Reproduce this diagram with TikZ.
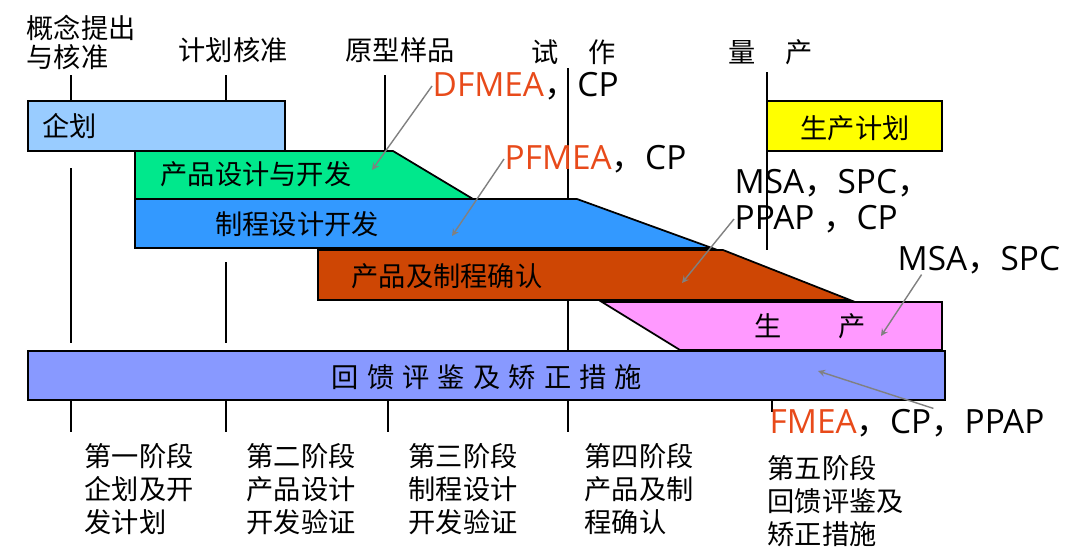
\documentclass[tikz,border=0pt]{standalone}
\usepackage{fontspec}
\setmainfont{Noto Sans CJK SC}
\newfontfamily\cjkfont{Noto Sans CJK SC}
\newfontfamily\latfont{Open Sans}
\usepackage{tikz}
\usetikzlibrary{arrows, positioning}
\tikzset{>=stealth}

\definecolor{qhblue}{RGB}{153,204,255}
\definecolor{sjgreen}{RGB}{0,232,140}
\definecolor{zcblue}{RGB}{51,153,255}
\definecolor{qrorange}{RGB}{206,70,4}
\definecolor{scpink}{RGB}{255,153,255}
\definecolor{jhyellow}{RGB}{255,255,0}
\definecolor{fbblue}{RGB}{136,153,255}
\definecolor{fmred}{RGB}{232,74,26}

\newcommand{\zdou}{{\cjkfont ，}}
\newcommand{\zkern}{\kern.3em}

\tikzset{
  stage/.style={draw=black, line width=1pt},
  tickline/.style={draw=black, line width=1pt},
  lbl/.style={inner sep=0pt, font=\fontsize{15.5}{17}\selectfont},
  stagelbl/.style={inner sep=0pt, align=left, anchor=north west, font=\fontsize{15.5}{18.7}\selectfont},
  note/.style={inner sep=0pt, anchor=west, font=\latfont\fontsize{19}{20}\selectfont},
  hint/.style={->, draw=gray, line width=0.8pt},
}

\begin{document}
\begin{tikzpicture}[>=stealth, thick, x=0.02cm, y=-0.02cm]
		\useasboundingbox (0,0) rectangle (1080,549);
		% bars of the five stages
		\filldraw[stage, fill=fbblue] (28,351) rectangle (945,400);
		\filldraw[stage, fill=scpink] (602,302) -- (942,302) -- (942,350) -- (680,350) -- cycle;
		\filldraw[stage, fill=qrorange] (318,250) -- (723,250) -- (850,300) -- (318,300) -- cycle;
		\filldraw[stage, fill=zcblue] (135,199) -- (577,199) -- (712,248) -- (135,248) -- cycle;
		\filldraw[stage, fill=sjgreen] (135,151) -- (393,151) -- (473,199) -- (135,199) -- cycle;
		\filldraw[stage, fill=qhblue] (28,101) rectangle (285,151);
		\filldraw[stage, fill=jhyellow] (767,101) rectangle (942,151);
		% milestone lines
		\foreach \x/\ya/\yb in {71/75/101, 226/75/101, 385/75/151, 568/68/199, 767/72/250,
		    71/168/343, 226/262/343, 568/300/351,
		    71/400/432, 226/400/432, 388/400/432, 568/400/432, 772/400/412}
		  \draw[tickline] (\x,\ya) -- (\x,\yb);

		\node[lbl, anchor=north west, align=left] (gnhz) at (26,14) {概念提出\\与核准};
		\node[lbl] (jhhz) at (233,50) {计划核准};
		\node[lbl] (yxyp) at (400,50) {原型样品};
		\node[lbl] (sz) at (574,52) {试\kern1.1em 作};
		\node[lbl] (lc) at (771,52) {量\kern1.1em 产};

		\node[lbl, anchor=west] (qh) at (42,126) {企划};
		\node[lbl] (sjkf) at (256,174) {产品设计与开发};
		\node[lbl] (zckf) at (297,224) {制程设计开发};
		\node[lbl] (qr) at (447,276) {产品及制程确认};
		\node[lbl] (scjh) at (855,128) {生产计划};
		\node[lbl] (sc) at (810,326) {生\kern2.1em 产};
		\node[lbl] (fk) at (487,377) {回\zkern 馈\zkern 评\zkern 鉴\zkern 及\zkern 矫\zkern 正\zkern 措\zkern 施};

		\node[stagelbl] (jd1) at (84,443) {第一阶段\\企划及开\\发计划};
		\node[stagelbl] (jd2) at (246,443) {第二阶段\\产品设计\\开发验证};
		\node[stagelbl] (jd3) at (408,443) {第三阶段\\制程设计\\开发验证};
		\node[stagelbl] (jd4) at (584,443) {第四阶段\\产品及制\\程确认};
		\node[stagelbl] (jd5) at (767,455) {第五阶段\\回馈评鉴及\\矫正措施};

		% tools
		\node[note] (dfm) at (432,86) {\textcolor{fmred}{DFMEA}\zdou CP};
		\node[note] (pfm) at (504,159) {\textcolor{fmred}{PFMEA}\zdou CP};
		\node[note] (msa1) at (734,183) {MSA\zdou SPC\zdou};
		\node[note] (msa2) at (734,219) {PPAP \zdou CP};
		\node[note] (msb) at (897,260) {MSA\zdou SPC};
		\node[note] (fme) at (769,423) {\textcolor{fmred}{FMEA}\zdou CP\zdou PPAP};

		\coordinate (dfmend) at (372,170);
		\coordinate (pfmend) at (452,236);
		\coordinate (msaend) at (682,283);
		\coordinate (msbend) at (881,336);
		\coordinate (fmeend) at (818,371);
		\draw[hint] (dfm.west) -- (dfmend);
		\draw[hint] (pfm.west) -- (pfmend);
		\draw[hint] (msa2.west) -- (msaend);
		\draw[hint] ([xshift=14pt]msb.south west) -- (msbend);
		\draw[hint] ([xshift=15pt]fme.north) -- (fmeend);
\end{tikzpicture}
\end{document}
